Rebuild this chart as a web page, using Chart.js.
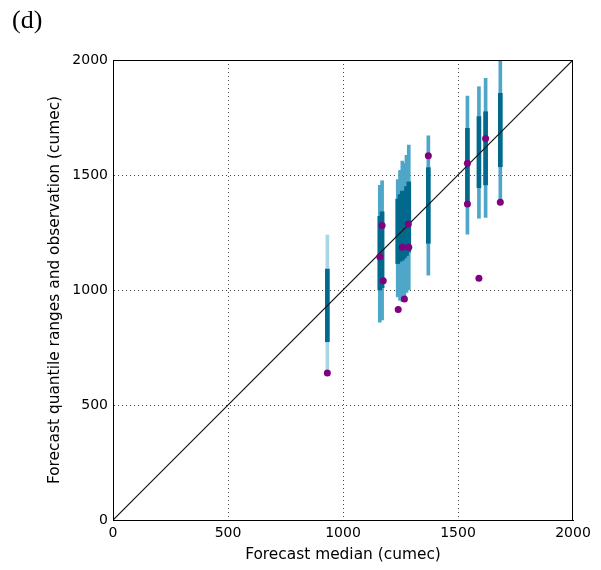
<!DOCTYPE html>
<html>
<head>
<meta charset="utf-8">
<script src="https://cdn.jsdelivr.net/npm/chart.js@4/dist/chart.umd.min.js"></script>
<style>
  html, body { margin: 0; padding: 0; background: #fff; }
  #wrap { position: relative; width: 601px; height: 570px; }
  #lbl { position: absolute; left: 12px; top: 5px; font-family: "Liberation Serif", "DejaVu Serif", serif; font-size: 26px; color: #000; }
</style>
</head>
<body>
<div id="wrap">
  <canvas id="c" width="601" height="570"></canvas>
  <div id="lbl">(d)</div>
</div>
<script>
// Forecast medians (x positions)
const medians = [932, 1160, 1170, 1238, 1248, 1258, 1267, 1276, 1286, 1371, 1541, 1591, 1620, 1684];
// Outer quantile range
const outerLow  = [655, 860, 870, 970, 955, 950, 960, 990, 1000, 1065, 1243, 1312, 1316, 1381];
const outerHigh = [1239, 1455, 1475, 1480, 1520, 1560, 1550, 1585, 1630, 1670, 1843, 1884, 1920, 2000];
// Inner quantile range
const innerLow  = [775, 1000, 1010, 1115, 1125, 1130, 1140, 1150, 1165, 1203, 1384, 1445, 1457, 1536];
const innerHigh = [1091, 1320, 1340, 1395, 1415, 1430, 1420, 1450, 1470, 1532, 1703, 1754, 1775, 1855];
// Observations
const obsX = [932, 1160, 1170, 1175, 1240, 1267, 1258, 1286, 1284, 1371, 1541, 1541, 1591, 1620, 1684];
const obsY = [639, 1145, 1280, 1040, 915, 961, 1186, 1186, 1287, 1584, 1551, 1374, 1051, 1659, 1381];
// Axis ticks
const ticks = [0, 500, 1000, 1500, 2000];
const diag = [0, 2000];

const outerData = medians.map((m, i) => ({x: m, y: [outerLow[i], outerHigh[i]]}));
const innerData = medians.map((m, i) => ({x: m, y: [innerLow[i], innerHigh[i]]}));
const obsData = obsX.map((x, i) => ({x: x, y: obsY[i]}));
const diagData = diag.map(v => ({x: v, y: v}));

const frame = {
  id: 'frame',
  afterDatasetsDraw(chart) {
    const {ctx, chartArea: a} = chart;
    ctx.save();
    ctx.strokeStyle = '#000';
    ctx.lineWidth = 1;
    ctx.strokeRect(a.left + 0.5, a.top + 0.5, a.right - a.left - 1, a.bottom - a.top);
    ctx.restore();
  }
};

const gridColor = (c) => (c.tick && (c.tick.value === 0 || c.tick.value === 2000)) ? 'rgba(0,0,0,0)' : '#444';
const fmt = (v) => String(v);

new Chart(document.getElementById('c'), {
  type: 'bar',
  data: {
    datasets: [
      {
        type: 'scatter', data: obsData, order: 0,
        backgroundColor: '#800080', borderColor: '#800080',
        pointRadius: 3.5, pointBorderWidth: 0
      },
      {
        type: 'line', data: diagData, order: 1,
        borderColor: '#111', borderWidth: 1.2, pointRadius: 0, fill: false
      },
      {
        type: 'bar', data: innerData, order: 2,
        backgroundColor: '#00698c', barThickness: 4, grouped: false
      },
      {
        type: 'bar', data: outerData, order: 3,
        backgroundColor: (c) => c.dataIndex === 0 ? '#a8d8e6' : '#4ea6c8',
        barThickness: 3, grouped: false
      }
    ]
  },
  options: {
    responsive: false,
    animation: false,
    layout: { padding: { top: 60, right: 28, left: 0, bottom: 0 } },
    plugins: { legend: { display: false }, tooltip: { enabled: false } },
    scales: {
      x: {
        type: 'linear', min: 0, max: 2000, offset: false,
        afterBuildTicks: (s) => { s.ticks = ticks.map(v => ({value: v})); },
        afterFit: (s) => { s.height = 50; },
        grid: { color: gridColor, lineWidth: 1, drawTicks: false, offset: false },
        border: { display: true, color: '#000', dash: [1, 3] },
        ticks: { font: { family: 'DejaVu Sans', size: 14 }, color: '#000', padding: 5, maxRotation: 0, callback: fmt },
        title: { display: true, text: 'Forecast median (cumec)', font: { family: 'DejaVu Sans', size: 15.4 }, color: '#000', padding: { top: 6, bottom: 6 } }
      },
      y: {
        type: 'linear', min: 0, max: 2000,
        afterBuildTicks: (s) => { s.ticks = ticks.map(v => ({value: v})); },
        afterFit: (s) => { s.width = 113; },
        grid: { color: gridColor, lineWidth: 1, drawTicks: false },
        border: { display: true, color: '#000', dash: [1, 3] },
        ticks: { font: { family: 'DejaVu Sans', size: 14 }, color: '#000', padding: 5, callback: fmt },
        title: { display: true, text: 'Forecast quantile ranges and observation (cumec)', font: { family: 'DejaVu Sans', size: 15.4 }, color: '#000', padding: { top: 46, bottom: 0 } }
      }
    }
  },
  plugins: [frame]
});
</script>
</body>
</html>
